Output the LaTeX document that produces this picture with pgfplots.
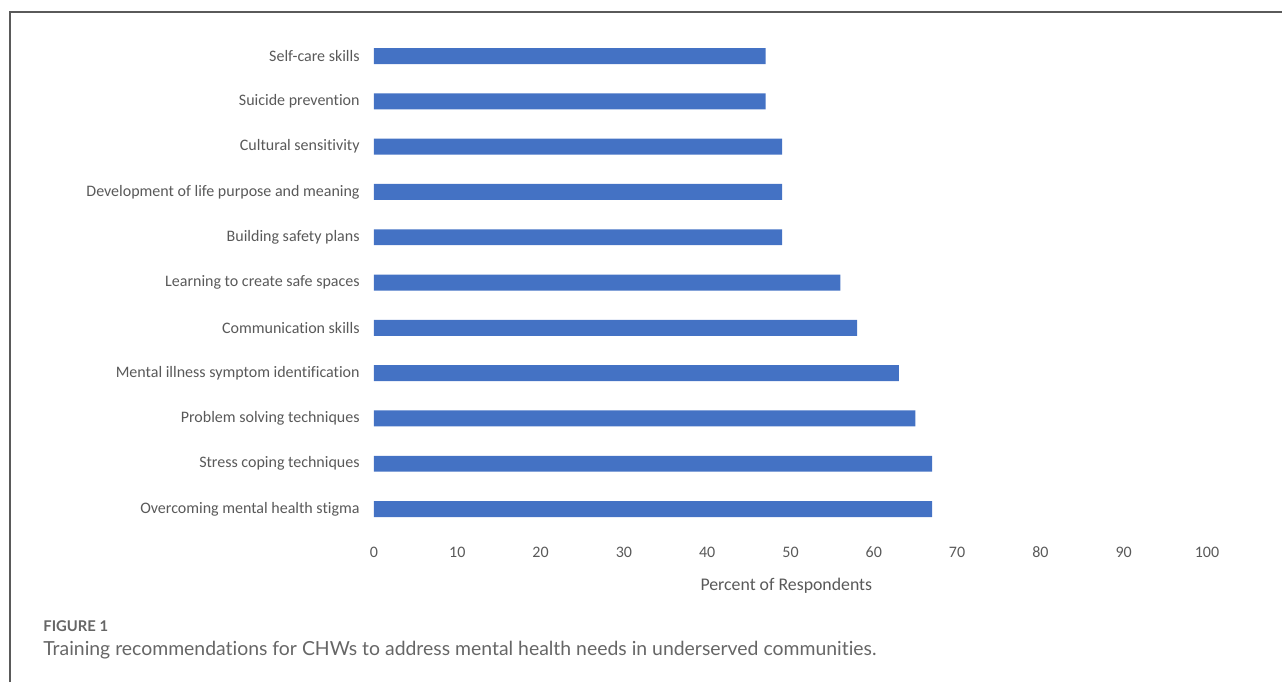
\documentclass[border=0pt]{standalone}
\usepackage{fontspec}
\setmainfont{Carlito}[Ligatures=NoCommon]
\newfontfamily\capfont{Lato}[Ligatures=NoCommon]
\usepackage{pgfplots}
\pgfplotsset{compat=1.18}
\definecolor{barblue}{HTML}{4472C4}
\definecolor{lbl}{HTML}{595959}
\definecolor{framec}{HTML}{5A5A5A}
\definecolor{capc}{HTML}{666666}
\begin{document}
\begin{tikzpicture}
\useasboundingbox (0pt,0pt) rectangle (641pt,341pt);
\draw[framec, line width=0.8pt] (5pt,0pt) -- (5pt,335pt) -- (641pt,335pt);
\node[anchor=base west, inner sep=0pt, text=capc, font=\capfont\bfseries\fontsize{7.4pt}{8pt}\selectfont] at (21.5pt,25.5pt) {FIGURE 1};
\node[anchor=base west, inner sep=0pt, text=capc, font=\capfont\fontsize{9.7pt}{11pt}\selectfont] at (21.5pt,13.5pt) {Training recommendations for CHWs to address mental health needs in underserved communities.};
\begin{axis}[
  at={(187pt,75.15pt)}, anchor=south west,
  scale only axis, width=416.5pt, height=249.15pt,
  xbar, bar width=0.353,
  xmin=0, xmax=100, ymin=-0.5, ymax=10.5,
  xtick={0,10,...,100},
  ytick={0,...,10},
  yticklabels={Overcoming mental health stigma, Stress coping techniques, Problem solving techniques, Mental illness symptom identification, Communication skills, Learning to create safe spaces, Building safety plans, Development of life purpose and meaning, Cultural sensitivity\ , Suicide prevention, Self-care skills},
  axis line style={draw=none},
  major tick length=0pt,
  tick style={draw=none},
  /pgf/number format/assume math mode=true,
  ticklabel style={font=\fontsize{8pt}{9pt}\selectfont, text=lbl, inner sep=0pt},
  xticklabel style={anchor=base, yshift=-13.1pt},
  yticklabel style={anchor=east, xshift=-7pt},
  xlabel={Percent of Respondents},
  xlabel style={font=\fontsize{8.9pt}{10pt}\selectfont, text=lbl, inner sep=0pt, anchor=base, at={(axis description cs:0.495,0)}, yshift=-29.4pt},
  clip=false,
]
\addplot[draw=none, fill=barblue] coordinates {
(67,0) (67,1) (65,2) (63,3) (58,4) (56,5) (49,6) (49,7) (49,8) (47,9) (47,10)};
\end{axis}
\end{tikzpicture}
\end{document}
